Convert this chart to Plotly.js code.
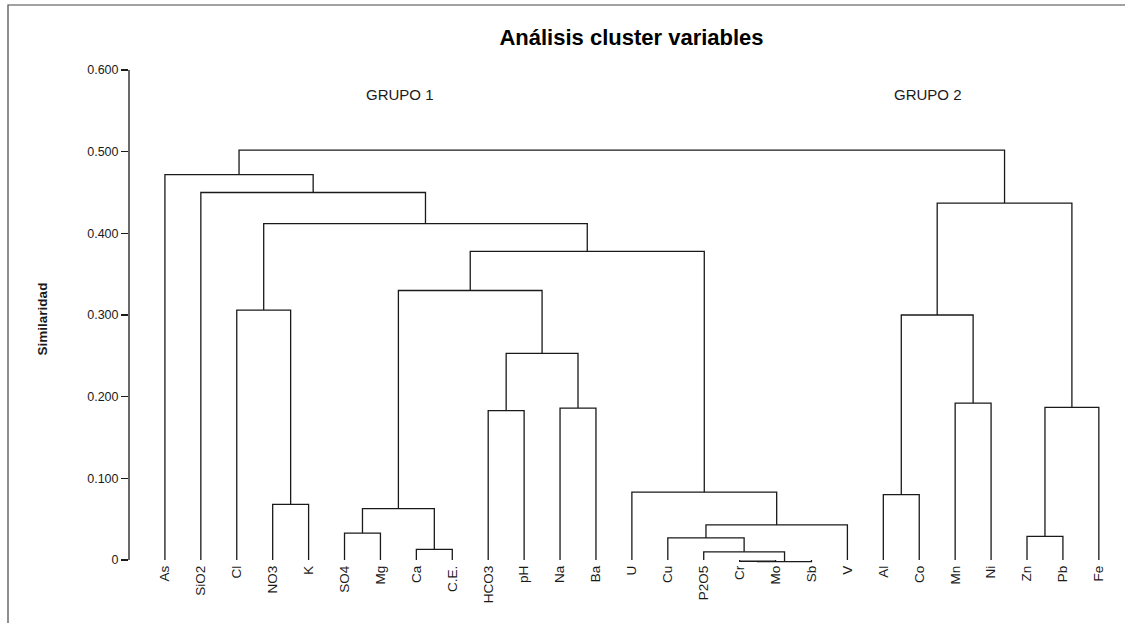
<!DOCTYPE html>
<html>
<head>
<meta charset="utf-8">
<script src="https://cdn.plot.ly/plotly-3.0.1.min.js"></script>
<style>html,body{margin:0;padding:0;background:#fff;}#chart{width:1125px;height:623px;}</style>
</head>
<body>
<div id="chart"></div>
<script>
// ---- Data ----
const leaves = ["As","SiO2","Cl","NO3","K","SO4","Mg","Ca","C.E.","HCO3","pH","Na","Ba",
                "U","Cu","P2O5","Cr","Mo","Sb","V","Al","Co","Mn","Ni","Zn","Pb","Fe"];
// merges: node id = leaves.length + index
const mergeA = [16, 27, 15, 14, 30, 13, 7, 5, 34, 9, 11, 36, 35, 39, 3, 2, 42, 1, 0, 24, 46, 20, 22, 48, 50, 45];
const mergeB = [17, 18, 28, 29, 19, 31, 8, 6, 33, 10, 12, 37, 38, 32, 4, 41, 40, 43, 44, 25, 26, 21, 23, 49, 47, 51];
const mergeH = [-0.0015, -0.0020, 0.010, 0.027, 0.043, 0.083, 0.013, 0.033, 0.063, 0.183, 0.186, 0.253,
                0.330, 0.378, 0.068, 0.306, 0.412, 0.450, 0.472, 0.029, 0.187, 0.080, 0.192, 0.300, 0.437, 0.502];
const groupLabels = ["GRUPO 1", "GRUPO 2"];
const tickVals = [0, 0.1, 0.2, 0.3, 0.4, 0.5, 0.6];
const tickText = ["0", "0.100", "0.200", "0.300", "0.400", "0.500", "0.600"];

// ---- Build dendrogram segments ----
const nx = [], ny = [];
leaves.forEach((l, i) => { nx.push(i); ny.push(0); });
const xs = [], ys = [];
for (let k = 0; k < mergeA.length; k++) {
  const a = mergeA[k], b = mergeB[k], h = mergeH[k];
  xs.push(nx[a], nx[a], nx[b], nx[b], null);
  ys.push(ny[a], h, h, ny[b], null);
  nx.push((nx[a] + nx[b]) / 2);
  ny.push(h);
}

// ---- Layout geometry ----
const W = 1125, Hh = 623;
const M = {l: 129, r: 10, t: 70, b: 55};
const PW = W - M.l - M.r, PH = Hh - M.t - M.b;
const px = p => (p - M.l) / PW;          // pixel -> paper x
const py = p => (Hh - M.b - p) / PH;     // pixel -> paper y
const FONT = "Liberation Sans, Arial, sans-serif";
const INK = "#1a1a1a";

const trace = {
  type: "scatter", mode: "lines", x: xs, y: ys,
  line: {color: INK, width: 1.3}, hoverinfo: "skip", showlegend: false
};

const layout = {
  width: W, height: Hh,
  margin: M,
  paper_bgcolor: "#fff", plot_bgcolor: "#fff",
  font: {family: FONT, color: INK},
  title: {text: "Análisis cluster variables", font: {family: FONT, size: 22, color: "#000", weight: "bold"},
          x: 631.5 / W, xanchor: "center", y: 1 - 37 / Hh, yanchor: "middle"},
  xaxis: {
    range: [-1, -1 + PW / 35.92],
    tickmode: "array", tickvals: leaves.map((l, i) => i), ticktext: leaves,
    tickangle: -90, ticks: "", showline: false, showgrid: false, zeroline: false,
    tickfont: {family: FONT, size: 13.5, color: INK},
    ticklabelstandoff: -6, fixedrange: true
  },
  yaxis: {
    range: [-8 / 817, 0.6],
    tickmode: "array", tickvals: tickVals, ticktext: tickText,
    ticks: "outside", ticklen: 7, tickwidth: 1.3, tickcolor: INK,
    showline: false, showgrid: false, zeroline: false,
    tickfont: {family: FONT, size: 12.5, color: INK},
    title: {text: "Similaridad", font: {family: FONT, size: 13.5, color: INK, weight: "bold"}, standoff: 36},
    fixedrange: true
  },
  shapes: [
    {type: "line", xref: "paper", yref: "y", x0: 0, x1: 0, y0: 0, y1: 0.6, line: {color: INK, width: 1.3}},
    {type: "rect", xref: "paper", yref: "paper", x0: px(8), x1: px(1135), y0: py(640), y1: py(5),
     line: {color: "#444", width: 1.2}, fillcolor: "rgba(0,0,0,0)"}
  ],
  annotations: [
    {text: groupLabels[0], xref: "paper", yref: "paper", x: px(400), y: py(95), showarrow: false,
     xanchor: "center", yanchor: "middle", font: {family: FONT, size: 15, color: INK}},
    {text: groupLabels[1], xref: "paper", yref: "paper", x: px(928), y: py(95), showarrow: false,
     xanchor: "center", yanchor: "middle", font: {family: FONT, size: 15, color: INK}}
  ]
};

Plotly.newPlot("chart", [trace], layout, {staticPlot: true, displayModeBar: false});
</script>
</body>
</html>
